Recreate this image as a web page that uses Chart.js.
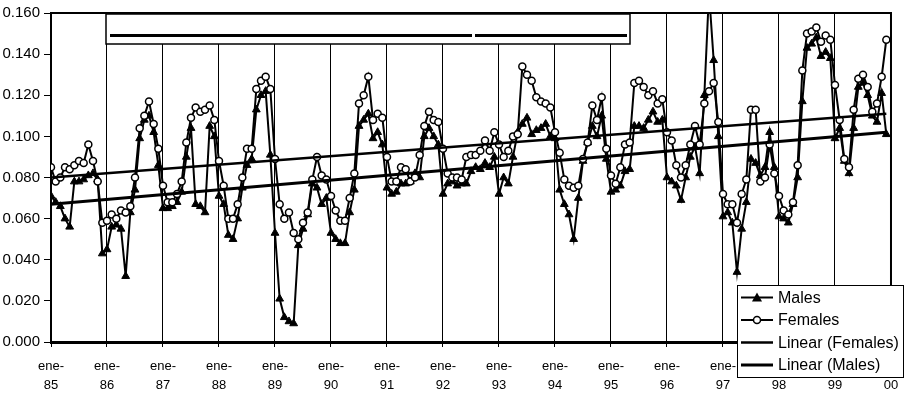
<!DOCTYPE html>
<html><head><meta charset="utf-8">
<script src="https://cdn.jsdelivr.net/npm/chart.js@4.4.1/dist/chart.umd.min.js"></script>
<style>html,body{margin:0;padding:0;background:#fff;overflow:hidden}</style>
</head><body>
<canvas id="c" width="914" height="393"></canvas>
<script>
// Year labels for the monthly category axis (one label every 12 months, "ene" = January)
const yearLabels = ['85','86','87','88','89','90','91','92','93','94','95','96','97','98','99','00'];
const monthPrefix = 'ene-';

// Monthly series, ene-85 .. dic-99
const males = [
  0.071,0.068,0.066,0.060,0.056,0.078,0.078,0.079,0.081,0.082,0.079,0.043,
  0.045,0.056,0.057,0.055,0.032,0.063,0.074,0.099,0.108,0.110,0.102,0.086,
  0.065,0.065,0.066,0.068,0.073,0.090,0.104,0.067,0.066,0.063,0.105,0.100,
  0.071,0.067,0.052,0.050,0.060,0.075,0.086,0.089,0.113,0.120,0.122,0.091,
  0.053,0.021,0.012,0.010,0.009,0.047,0.055,0.062,0.077,0.075,0.067,0.070,
  0.053,0.050,0.048,0.048,0.063,0.074,0.105,0.108,0.111,0.099,0.102,0.096,
  0.075,0.072,0.073,0.077,0.077,0.078,0.082,0.080,0.100,0.104,0.100,0.096,
  0.072,0.077,0.078,0.076,0.077,0.077,0.083,0.085,0.084,0.087,0.085,0.090,
  0.072,0.080,0.077,0.090,0.102,0.106,0.109,0.101,0.103,0.104,0.106,0.100,
  0.099,0.074,0.067,0.062,0.050,0.070,0.088,0.097,0.105,0.100,0.110,0.089,
  0.073,0.074,0.076,0.083,0.084,0.105,0.105,0.104,0.108,0.112,0.107,0.108,
  0.080,0.078,0.076,0.069,0.080,0.090,0.095,0.082,0.120,0.170,0.137,0.100,
  0.061,0.063,0.058,0.034,0.055,0.068,0.089,0.087,0.081,0.085,0.102,0.085,
  0.061,0.060,0.058,0.067,0.080,0.117,0.143,0.145,0.148,0.139,0.141,0.138,
  0.099,0.104,0.088,0.082,0.104,0.124,0.126,0.120,0.110,0.107,0.121,0.101
];
const females = [
  0.085,0.078,0.080,0.085,0.084,0.086,0.088,0.087,0.096,0.088,0.078,0.058,
  0.059,0.062,0.060,0.064,0.063,0.066,0.080,0.104,0.110,0.117,0.106,0.094,
  0.076,0.068,0.068,0.072,0.078,0.097,0.109,0.114,0.112,0.113,0.115,0.108,
  0.088,0.076,0.060,0.060,0.067,0.080,0.094,0.094,0.123,0.127,0.129,0.123,
  0.089,0.067,0.060,0.063,0.053,0.050,0.058,0.063,0.079,0.090,0.081,0.079,
  0.071,0.064,0.059,0.059,0.070,0.082,0.116,0.120,0.129,0.108,0.111,0.109,
  0.090,0.078,0.078,0.085,0.084,0.078,0.080,0.091,0.105,0.112,0.108,0.107,
  0.094,0.082,0.080,0.080,0.079,0.090,0.091,0.091,0.093,0.098,0.093,0.102,
  0.096,0.090,0.093,0.100,0.101,0.134,0.130,0.127,0.119,0.117,0.116,0.114,
  0.102,0.092,0.079,0.076,0.075,0.076,0.089,0.097,0.115,0.108,0.119,0.094,
  0.081,0.077,0.085,0.096,0.097,0.126,0.127,0.124,0.120,0.122,0.116,0.118,
  0.102,0.098,0.086,0.080,0.086,0.096,0.105,0.096,0.116,0.122,0.126,0.107,
  0.072,0.067,0.067,0.058,0.072,0.079,0.113,0.113,0.078,0.080,0.096,0.082,
  0.071,0.064,0.062,0.068,0.086,0.132,0.150,0.151,0.153,0.146,0.149,0.147,
  0.125,0.108,0.089,0.085,0.113,0.128,0.130,0.124,0.112,0.116,0.129,0.147
];

// Linear trendlines: value at first and last month
const trendFemales = [0.080, 0.111];
const trendMales = [0.067, 0.102];

const seriesNames = ['Males', 'Females', 'Linear (Females)', 'Linear (Males)'];
const yMin = 0, yMax = 0.16, yStep = 0.02;

const toPts = arr => arr.map((v, i) => ({x: i, y: v}));
const last = males.length - 1;
const trendPts = t => [{x: 0, y: t[0]}, {x: last, y: t[1]}];

const FONT = "'Liberation Sans', Arial, sans-serif";

const decor = {
  id: 'decor',
  afterDraw(chart) {
    const ctx = chart.ctx, a = chart.chartArea;
    ctx.save();
    // top & right frame of plot area
    ctx.strokeStyle = '#000';
    ctx.lineWidth = 2;
    ctx.beginPath();
    ctx.moveTo(a.left, a.top); ctx.lineTo(a.right, a.top); ctx.lineTo(a.right, a.bottom);
    ctx.stroke();

    // empty box near the top
    ctx.fillStyle = '#fff';
    ctx.fillRect(106, 14, 524, 30);
    ctx.lineWidth = 1.5;
    ctx.strokeRect(106, 14, 524, 30);
    ctx.lineWidth = 3;
    ctx.beginPath();
    ctx.moveTo(110, 35.5); ctx.lineTo(472, 35.5);
    ctx.moveTo(475, 35.5); ctx.lineTo(627, 35.5);
    ctx.stroke();

    // legend
    const lx = 737, ly = 285, lw = 166, lh = 92;
    ctx.fillStyle = '#fff';
    ctx.fillRect(lx, ly, lw, lh);
    ctx.lineWidth = 1;
    ctx.strokeStyle = '#000';
    ctx.strokeRect(lx + 0.5, ly + 0.5, lw, lh);
    const ds = chart.data.datasets;
    const order = [0, 1, 2, 3];
    ctx.font = '16px ' + FONT;
    ctx.textBaseline = 'middle';
    ctx.textAlign = 'left';
    order.forEach((di, k) => {
      const d = ds[di];
      const y = ly + 12.5 + k * 22.5;
      ctx.strokeStyle = '#000';
      ctx.lineWidth = d.borderWidth;
      ctx.beginPath(); ctx.moveTo(lx + 4, y); ctx.lineTo(lx + 36, y); ctx.stroke();
      const cx = lx + 20;
      if (d.pointStyle === 'triangle' && d.pointRadius > 0) {
        ctx.fillStyle = '#000';
        ctx.beginPath();
        ctx.moveTo(cx, y - 5); ctx.lineTo(cx + 5, y + 4); ctx.lineTo(cx - 5, y + 4); ctx.closePath();
        ctx.fill();
      } else if (d.pointStyle === 'circle' && d.pointRadius > 0) {
        ctx.fillStyle = '#fff';
        ctx.lineWidth = 1.5;
        ctx.beginPath(); ctx.arc(cx, y, 3.5, 0, Math.PI * 2); ctx.fill(); ctx.stroke();
      }
      ctx.fillStyle = '#000';
      ctx.fillText(d.label, lx + 41, y + 1);
    });
    ctx.restore();
  }
};

new Chart(document.getElementById('c'), {
  type: 'line',
  data: {
    datasets: [
      {label: seriesNames[0], data: toPts(males), borderColor: '#000', borderWidth: 2,
       pointStyle: 'triangle', pointRadius: 4.5, pointBackgroundColor: '#000', pointBorderColor: '#000',
       pointBorderWidth: 1, tension: 0, order: 3},
      {label: seriesNames[1], data: toPts(females), borderColor: '#000', borderWidth: 2,
       pointStyle: 'circle', pointRadius: 3.5, pointBackgroundColor: '#fff', pointBorderColor: '#000',
       pointBorderWidth: 1.5, tension: 0, order: 2},
      {label: seriesNames[2], data: trendPts(trendFemales), borderColor: '#000', borderWidth: 2.5,
       pointRadius: 0, pointStyle: false, tension: 0, order: 1},
      {label: seriesNames[3], data: trendPts(trendMales), borderColor: '#000', borderWidth: 3,
       pointRadius: 0, pointStyle: false, tension: 0, order: 0}
    ]
  },
  options: {
    responsive: false,
    animation: false,
    layout: {padding: {top: 5, right: 16, left: 0, bottom: 0}},
    plugins: {legend: {display: false}, tooltip: {enabled: false}},
    scales: {
      x: {
        type: 'linear', min: 0, max: 180,
        afterFit: s => { s.height = 51; },
        grid: {color: '#000', lineWidth: 1, tickLength: 5, drawOnChartArea: true},
        border: {color: '#000', width: 3},
        ticks: {
          stepSize: 12, autoSkip: false, maxRotation: 0, color: '#000', padding: 10,
          font: {family: FONT, size: 13, lineHeight: 1.45},
          callback: v => (v % 12 === 0 ? [monthPrefix, yearLabels[v / 12]] : '')
        }
      },
      y: {
        min: yMin, max: yMax,
        afterFit: s => { s.width = 51; },
        grid: {drawOnChartArea: false, color: '#000', tickLength: 7},
        border: {color: '#000', width: 2},
        ticks: {stepSize: yStep, color: '#000', padding: 4, font: {family: FONT, size: 15},
          callback: v => v.toFixed(3)}
      }
    }
  },
  plugins: [decor]
});
</script>
</body></html>
